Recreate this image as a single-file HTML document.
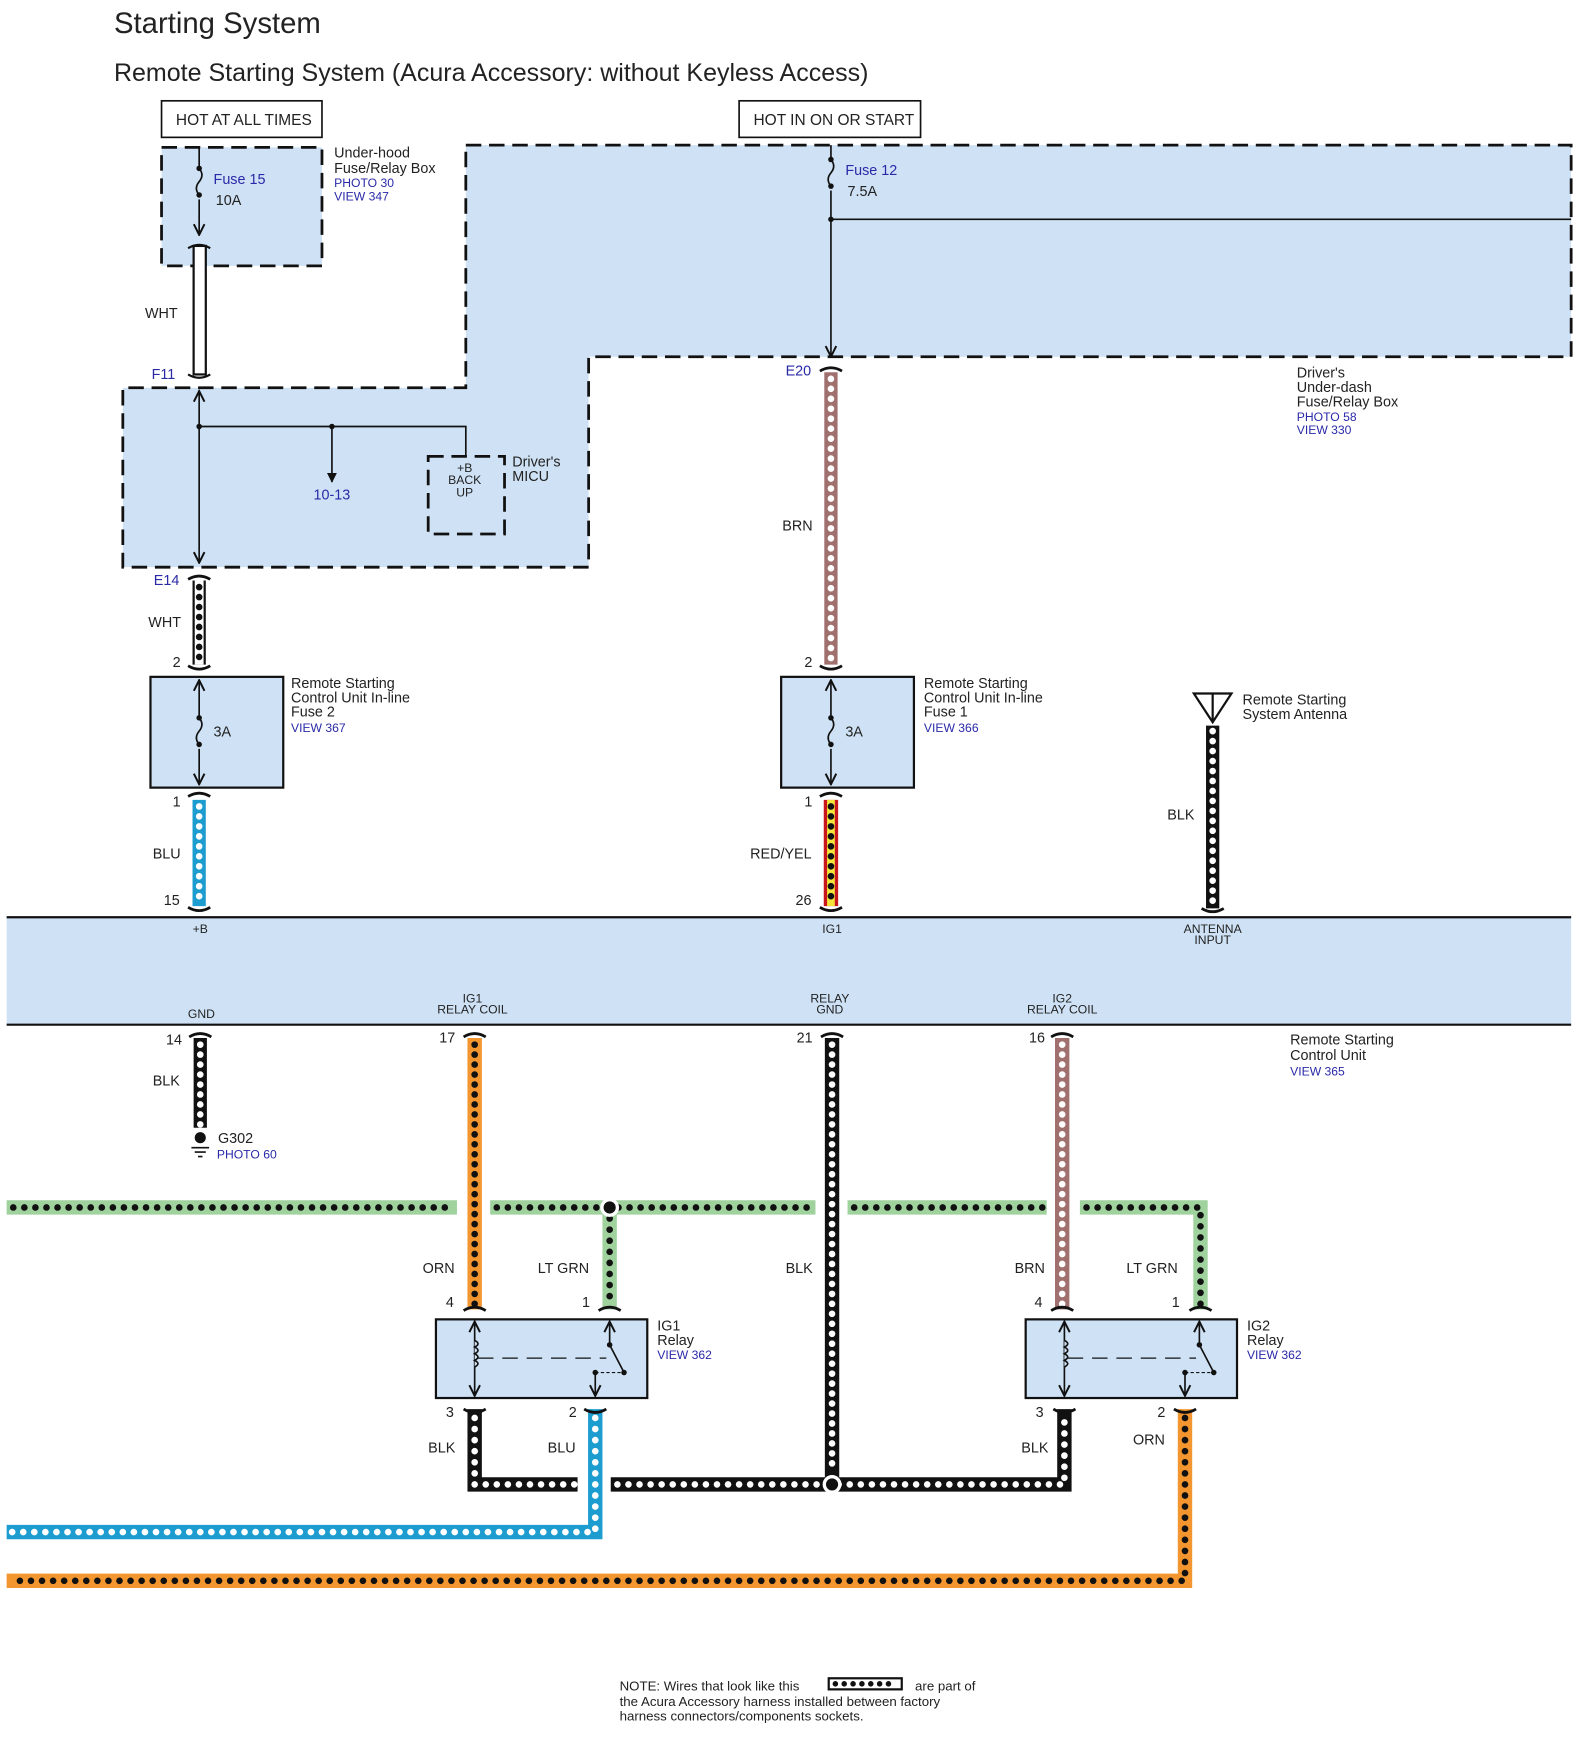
<!DOCTYPE html>
<html><head><meta charset="utf-8"><style>
html,body{margin:0;padding:0;background:#fff}
svg{display:block}
text{font-family:"Liberation Sans",Arial,sans-serif;fill:#222}
.b{fill:#2a2aa8}
</style></head><body>
<svg width="1580" height="1737" viewBox="0 0 1428 1568" preserveAspectRatio="none" xmlns="http://www.w3.org/2000/svg">
<defs>
<marker id="ar" viewBox="0 0 10 10" refX="9" refY="5" markerWidth="8" markerHeight="8" orient="auto-start-reverse"><path d="M1,1 L9,5 L1,9" fill="none" stroke="#111" stroke-width="1.5"/></marker>
<marker id="at" viewBox="0 0 10 10" refX="9" refY="5" markerWidth="6" markerHeight="6" orient="auto"><path d="M0,0 L10,5 L0,10z" fill="#111"/></marker>
</defs>
<text x="103" y="30" font-size="26.5">Starting System</text>
<text x="103" y="73" font-size="22.6">Remote Starting System (Acura Accessory: without Keyless Access)</text>

<rect x="146" y="91" width="145" height="33" fill="#fff" stroke="#111" stroke-width="1.5"/>
<text x="159" y="113" font-size="14">HOT AT ALL TIMES</text>
<rect x="668" y="91" width="164" height="33" fill="#fff" stroke="#111" stroke-width="1.5"/>
<text x="681" y="113" font-size="14">HOT IN ON OR START</text>

<rect x="146" y="133" width="145" height="107" fill="#cfe2f5" stroke="#111" stroke-width="2.5" stroke-dasharray="14 7"/>
<path d="M421,131 L1420,131 L1420,322 L532,322 L532,512 L111,512 L111,350 L421,350 Z" fill="#cfe2f5" stroke="#111" stroke-width="2.5" stroke-dasharray="14 7"/>
<rect x="387" y="412" width="69" height="70" fill="none" stroke="#111" stroke-width="2.5" stroke-dasharray="14 7"/>

<text x="302" y="142" font-size="13">Under-hood</text>
<text x="302" y="156" font-size="13">Fuse/Relay Box</text>
<text x="302" y="169" font-size="11" class="b">PHOTO 30</text>
<text x="302" y="181" font-size="11" class="b">VIEW 347</text>

<line x1="180" y1="133" x2="180" y2="212" stroke="#111" stroke-width="1.5" marker-end="url(#ar)"/>
<rect x="176" y="150" width="8" height="30" fill="#cfe2f5"/>
<path d="M180,152 q5,6 0,12 q-5,6 0,12" fill="none" stroke="#111" stroke-width="1.5"/>
<circle cx="180" cy="152" r="2.5" fill="#111"/><circle cx="180" cy="176" r="2.5" fill="#111"/>
<text x="193" y="166" font-size="13" class="b">Fuse 15</text>
<text x="195" y="185" font-size="13">10A</text>
<rect x="175" y="222" width="11" height="116" fill="#fff" stroke="#111" stroke-width="2"/>
<path d="M170,224 q10,-6 20,0 M170,338 q10,6 20,0" fill="none" stroke="#111" stroke-width="2"/>
<text x="131" y="287" font-size="13">WHT</text>
<text x="137" y="342" font-size="13" class="b">F11</text>

<line x1="180" y1="353" x2="180" y2="508" stroke="#111" stroke-width="1.5" marker-start="url(#ar)" marker-end="url(#ar)"/>
<polyline points="180,385 421,385 421,412" fill="none" stroke="#111" stroke-width="1.5"/>
<line x1="300" y1="385" x2="300" y2="435" stroke="#111" stroke-width="1.5" marker-end="url(#at)"/>
<circle cx="180" cy="385" r="2.5" fill="#111"/><circle cx="300" cy="385" r="2.5" fill="#111"/>
<text x="300" y="451" font-size="13" class="b" text-anchor="middle">10-13</text>
<text x="420" y="426" font-size="11" text-anchor="middle">+B</text>
<text x="420" y="437" font-size="11" text-anchor="middle">BACK</text>
<text x="420" y="448" font-size="11" text-anchor="middle">UP</text>
<text x="463" y="421" font-size="13">Driver's</text>
<text x="463" y="434" font-size="13">MICU</text>

<text x="139" y="528" font-size="13" class="b">E14</text>
<g stroke-linecap="butt" fill="none">
<line x1="180" y1="524" x2="180" y2="600" stroke="#111" stroke-width="12"/>
<line x1="180" y1="524" x2="180" y2="600" stroke="#fff" stroke-width="8"/>
<line x1="180" y1="530" x2="180" y2="598" stroke="#111" stroke-width="6" stroke-dasharray="0 9" stroke-linecap="round"/>
<line x1="180" y1="722" x2="180" y2="818" stroke="#1c9ccf" stroke-width="12"/>
<line x1="180" y1="728" x2="180" y2="816" stroke="#fff" stroke-width="6" stroke-dasharray="0 9" stroke-linecap="round"/>
<line x1="751" y1="336" x2="751" y2="600" stroke="#a0706e" stroke-width="12"/>
<line x1="751" y1="342" x2="751" y2="598" stroke="#fff" stroke-width="6" stroke-dasharray="0 9" stroke-linecap="round"/>
<line x1="751" y1="722" x2="751" y2="818" stroke="#c8161d" stroke-width="13"/>
<line x1="751" y1="722" x2="751" y2="818" stroke="#f3e33a" stroke-width="7"/>
<line x1="751" y1="728" x2="751" y2="816" stroke="#111" stroke-width="6" stroke-dasharray="0 9" stroke-linecap="round"/>
<line x1="1096" y1="655" x2="1096" y2="820" stroke="#111" stroke-width="12"/>
<line x1="1096" y1="660" x2="1096" y2="818" stroke="#fff" stroke-width="6" stroke-dasharray="0 9" stroke-linecap="round"/>
<line x1="181" y1="937" x2="181" y2="1018" stroke="#111" stroke-width="12"/>
<line x1="181" y1="943" x2="181" y2="1016" stroke="#fff" stroke-width="6" stroke-dasharray="0 9" stroke-linecap="round"/>
<g stroke="#9fd29d" stroke-width="13">
<line x1="6" y1="1090" x2="413" y2="1090"/><line x1="443" y1="1090" x2="737" y2="1090"/>
<line x1="766" y1="1090" x2="946" y2="1090"/><polyline points="976,1090 1085,1090 1085,1182"/>
<line x1="551" y1="1090" x2="551" y2="1182"/>
</g>
<g stroke="#111" stroke-width="6" stroke-dasharray="0 10" stroke-linecap="round">
<line x1="12" y1="1090" x2="410" y2="1090"/><line x1="449" y1="1090" x2="735" y2="1090"/>
<line x1="772" y1="1090" x2="944" y2="1090"/><polyline points="982,1090 1085,1090 1085,1180"/>
<line x1="551" y1="1100" x2="551" y2="1180"/>
</g>
<line x1="429" y1="937" x2="429" y2="1182" stroke="#f3962f" stroke-width="13"/>
<line x1="429" y1="943" x2="429" y2="1180" stroke="#111" stroke-width="6" stroke-dasharray="0 9" stroke-linecap="round"/>
<line x1="960" y1="937" x2="960" y2="1182" stroke="#a0706e" stroke-width="13"/>
<line x1="960" y1="943" x2="960" y2="1180" stroke="#fff" stroke-width="6" stroke-dasharray="0 9" stroke-linecap="round"/>
<line x1="752" y1="937" x2="752" y2="1340" stroke="#111" stroke-width="13"/>
<line x1="752" y1="943" x2="752" y2="1330" stroke="#fff" stroke-width="6" stroke-dasharray="0 9" stroke-linecap="round"/>
<polyline points="429,1272 429,1340 522,1340" stroke="#111" stroke-width="13"/>
<polyline points="429,1280 429,1340 520,1340" stroke="#fff" stroke-width="6" stroke-dasharray="0 10" stroke-linecap="round"/>
<polyline points="552,1340 962,1340 962,1272" stroke="#111" stroke-width="13"/>
<polyline points="558,1340 962,1340 962,1280" stroke="#fff" stroke-width="6" stroke-dasharray="0 10" stroke-linecap="round"/>
<polyline points="538,1272 538,1383 6,1383" stroke="#1c9ccf" stroke-width="13"/>
<polyline points="538,1280 538,1383 10,1383" stroke="#fff" stroke-width="6" stroke-dasharray="0 10" stroke-linecap="round"/>
<polyline points="1071,1272 1071,1427 6,1427" stroke="#f3962f" stroke-width="13"/>
<polyline points="1071,1280 1071,1427 10,1427" stroke="#111" stroke-width="6" stroke-dasharray="0 10" stroke-linecap="round"/>
</g>
<circle cx="551" cy="1090" r="7" fill="#111" stroke="#fff" stroke-width="3"/>
<circle cx="752" cy="1340" r="7" fill="#111" stroke="#fff" stroke-width="3"/>

<g fill="none" stroke="#111" stroke-width="2.5">
<path d="M170,523 q10,-6 20,0 M170,601 q10,6 20,0 M170,719 q10,-6 20,0 M170,819 q10,6 20,0"/>
<path d="M741,335 q10,-6 20,0 M741,601 q10,6 20,0 M741,719 q10,-6 20,0 M741,819 q10,6 20,0"/>
<path d="M1086,820 q10,6 20,0"/>
<path d="M171,936 q10,-6 20,0 M419,936 q10,-6 20,0 M742,936 q10,-6 20,0 M950,936 q10,-6 20,0"/>
<path d="M419,1183 q10,-6 20,0 M541,1183 q10,-6 20,0 M950,1183 q10,-6 20,0 M1075,1183 q10,-6 20,0"/>
<path d="M419,1272 q10,6 20,0 M528,1272 q10,6 20,0 M952,1272 q10,6 20,0 M1061,1272 q10,6 20,0"/>
</g>

<text x="156" y="602" font-size="13">2</text>
<text x="134" y="566" font-size="13">WHT</text>
<rect x="136" y="611" width="120" height="100" fill="#cfe2f5" stroke="#111" stroke-width="2"/>
<line x1="180" y1="614" x2="180" y2="708" stroke="#111" stroke-width="1.5" marker-start="url(#ar)" marker-end="url(#ar)"/>
<rect x="176" y="646" width="8" height="30" fill="#cfe2f5"/>
<path d="M180,648 q5,6 0,12 q-5,6 0,12" fill="none" stroke="#111" stroke-width="1.5"/>
<circle cx="180" cy="648" r="2.5" fill="#111"/><circle cx="180" cy="672" r="2.5" fill="#111"/>
<text x="193" y="665" font-size="13">3A</text>
<text x="263" y="621" font-size="13">Remote Starting</text>
<text x="263" y="634" font-size="13">Control Unit In-line</text>
<text x="263" y="647" font-size="13">Fuse 2</text>
<text x="263" y="661" font-size="11" class="b">VIEW 367</text>
<text x="156" y="728" font-size="13">1</text>
<text x="138" y="775" font-size="13">BLU</text>
<text x="148" y="817" font-size="13">15</text>

<line x1="751" y1="131" x2="751" y2="322" stroke="#111" stroke-width="1.5" marker-end="url(#ar)"/>
<line x1="751" y1="198" x2="1420" y2="198" stroke="#111" stroke-width="1.5"/>
<circle cx="751" cy="198" r="2.5" fill="#111"/>
<rect x="747" y="142" width="8" height="30" fill="#cfe2f5"/>
<path d="M751,144 q5,6 0,12 q-5,6 0,12" fill="none" stroke="#111" stroke-width="1.5"/>
<circle cx="751" cy="144" r="2.5" fill="#111"/><circle cx="751" cy="168" r="2.5" fill="#111"/>
<text x="764" y="158" font-size="13" class="b">Fuse 12</text>
<text x="766" y="177" font-size="13">7.5A</text>
<text x="710" y="339" font-size="13" class="b">E20</text>
<text x="1172" y="341" font-size="13">Driver's</text>
<text x="1172" y="354" font-size="13">Under-dash</text>
<text x="1172" y="367" font-size="13">Fuse/Relay Box</text>
<text x="1172" y="380" font-size="11" class="b">PHOTO 58</text>
<text x="1172" y="392" font-size="11" class="b">VIEW 330</text>
<text x="707" y="479" font-size="13">BRN</text>
<text x="727" y="602" font-size="13">2</text>

<rect x="706" y="611" width="120" height="100" fill="#cfe2f5" stroke="#111" stroke-width="2"/>
<line x1="751" y1="614" x2="751" y2="708" stroke="#111" stroke-width="1.5" marker-start="url(#ar)" marker-end="url(#ar)"/>
<rect x="747" y="646" width="8" height="30" fill="#cfe2f5"/>
<path d="M751,648 q5,6 0,12 q-5,6 0,12" fill="none" stroke="#111" stroke-width="1.5"/>
<circle cx="751" cy="648" r="2.5" fill="#111"/><circle cx="751" cy="672" r="2.5" fill="#111"/>
<text x="764" y="665" font-size="13">3A</text>
<text x="835" y="621" font-size="13">Remote Starting</text>
<text x="835" y="634" font-size="13">Control Unit In-line</text>
<text x="835" y="647" font-size="13">Fuse 1</text>
<text x="835" y="661" font-size="11" class="b">VIEW 366</text>
<text x="727" y="728" font-size="13">1</text>
<text x="678" y="775" font-size="13">RED/YEL</text>
<text x="719" y="817" font-size="13">26</text>

<path d="M1079,626 L1113,626 L1096,652 Z" fill="none" stroke="#111" stroke-width="2"/>
<line x1="1096" y1="626" x2="1096" y2="652" stroke="#111" stroke-width="2"/>
<text x="1123" y="636" font-size="13">Remote Starting</text>
<text x="1123" y="649" font-size="13">System Antenna</text>
<text x="1055" y="740" font-size="13">BLK</text>

<rect x="6" y="828" width="1414" height="97" fill="#cfe2f5"/>
<line x1="6" y1="828" x2="1420" y2="828" stroke="#111" stroke-width="2"/>
<line x1="6" y1="925" x2="1420" y2="925" stroke="#111" stroke-width="2"/>
<g font-size="11" text-anchor="middle">
<text x="181" y="842">+B</text><text x="752" y="842">IG1</text>
<text x="1096" y="842">ANTENNA</text><text x="1096" y="852">INPUT</text>
<text x="182" y="919">GND</text>
<text x="427" y="905">IG1</text><text x="427" y="915">RELAY COIL</text>
<text x="750" y="905">RELAY</text><text x="750" y="915">GND</text>
<text x="960" y="905">IG2</text><text x="960" y="915">RELAY COIL</text>
</g>
<text x="1166" y="943" font-size="13">Remote Starting</text>
<text x="1166" y="957" font-size="13">Control Unit</text>
<text x="1166" y="971" font-size="11" class="b">VIEW 365</text>

<text x="150" y="943" font-size="13">14</text>
<text x="138" y="980" font-size="13">BLK</text>
<circle cx="181" cy="1027" r="5" fill="#111"/>
<path d="M173,1036 h16 M176,1040 h10 M179,1044 h4" stroke="#111" stroke-width="1.5"/>
<text x="197" y="1032" font-size="13">G302</text>
<text x="196" y="1046" font-size="11" class="b">PHOTO 60</text>
<text x="397" y="941" font-size="13">17</text>
<text x="720" y="941" font-size="13">21</text>
<text x="930" y="941" font-size="13">16</text>

<text x="382" y="1149" font-size="13">ORN</text>
<text x="486" y="1149" font-size="13">LT GRN</text>
<text x="710" y="1149" font-size="13">BLK</text>
<text x="917" y="1149" font-size="13">BRN</text>
<text x="1018" y="1149" font-size="13">LT GRN</text>
<text x="403" y="1180" font-size="13">4</text><text x="526" y="1180" font-size="13">1</text>
<text x="935" y="1180" font-size="13">4</text><text x="1059" y="1180" font-size="13">1</text>

<g id="r1">
<rect x="394" y="1191" width="191" height="71" fill="#cfe2f5" stroke="#111" stroke-width="2"/>
<line x1="429" y1="1193" x2="429" y2="1260" stroke="#111" stroke-width="1.5" marker-start="url(#ar)" marker-end="url(#ar)"/>
<path d="M429,1210 q6,3 0,6 q6,3 0,6 q6,3 0,6 q6,3 0,6" fill="#cfe2f5" stroke="#111" stroke-width="1.5"/>
<line x1="432" y1="1226" x2="548" y2="1226" stroke="#111" stroke-width="1.2" stroke-dasharray="14 8"/>
<line x1="551" y1="1193" x2="551" y2="1214" stroke="#111" stroke-width="1.5" marker-start="url(#ar)"/>
<line x1="551" y1="1214" x2="564" y2="1239" stroke="#111" stroke-width="1.5"/>
<circle cx="551" cy="1214" r="2.5" fill="#111"/><circle cx="564" cy="1239" r="2.5" fill="#111"/>
<line x1="538" y1="1239" x2="564" y2="1239" stroke="#111" stroke-width="1" stroke-dasharray="3 2"/>
<circle cx="538" cy="1239" r="2.5" fill="#111"/>
<line x1="538" y1="1239" x2="538" y2="1260" stroke="#111" stroke-width="1.5" marker-end="url(#ar)"/>
</g>
<use href="#r1" x="533"/>
<text x="594" y="1201" font-size="13">IG1</text><text x="594" y="1214" font-size="13">Relay</text>
<text x="594" y="1227" font-size="11" class="b">VIEW 362</text>
<text x="1127" y="1201" font-size="13">IG2</text><text x="1127" y="1214" font-size="13">Relay</text>
<text x="1127" y="1227" font-size="11" class="b">VIEW 362</text>

<text x="403" y="1279" font-size="13">3</text><text x="514" y="1279" font-size="13">2</text>
<text x="936" y="1279" font-size="13">3</text><text x="1046" y="1279" font-size="13">2</text>
<text x="387" y="1311" font-size="13">BLK</text>
<text x="495" y="1311" font-size="13">BLU</text>
<text x="923" y="1311" font-size="13">BLK</text>
<text x="1024" y="1304" font-size="13">ORN</text>

<text x="560" y="1526" font-size="12">NOTE: Wires that look like this</text>
<rect x="749" y="1515" width="66" height="10" fill="#fff" stroke="#111" stroke-width="2"/>
<line x1="755" y1="1520" x2="811" y2="1520" stroke="#111" stroke-width="5" stroke-dasharray="0 8" stroke-linecap="round"/>
<text x="827" y="1526" font-size="12">are part of</text>
<text x="560" y="1540" font-size="12">the Acura Accessory harness installed between factory</text>
<text x="560" y="1553" font-size="12">harness connectors/components sockets.</text>
</svg>
</body></html>
